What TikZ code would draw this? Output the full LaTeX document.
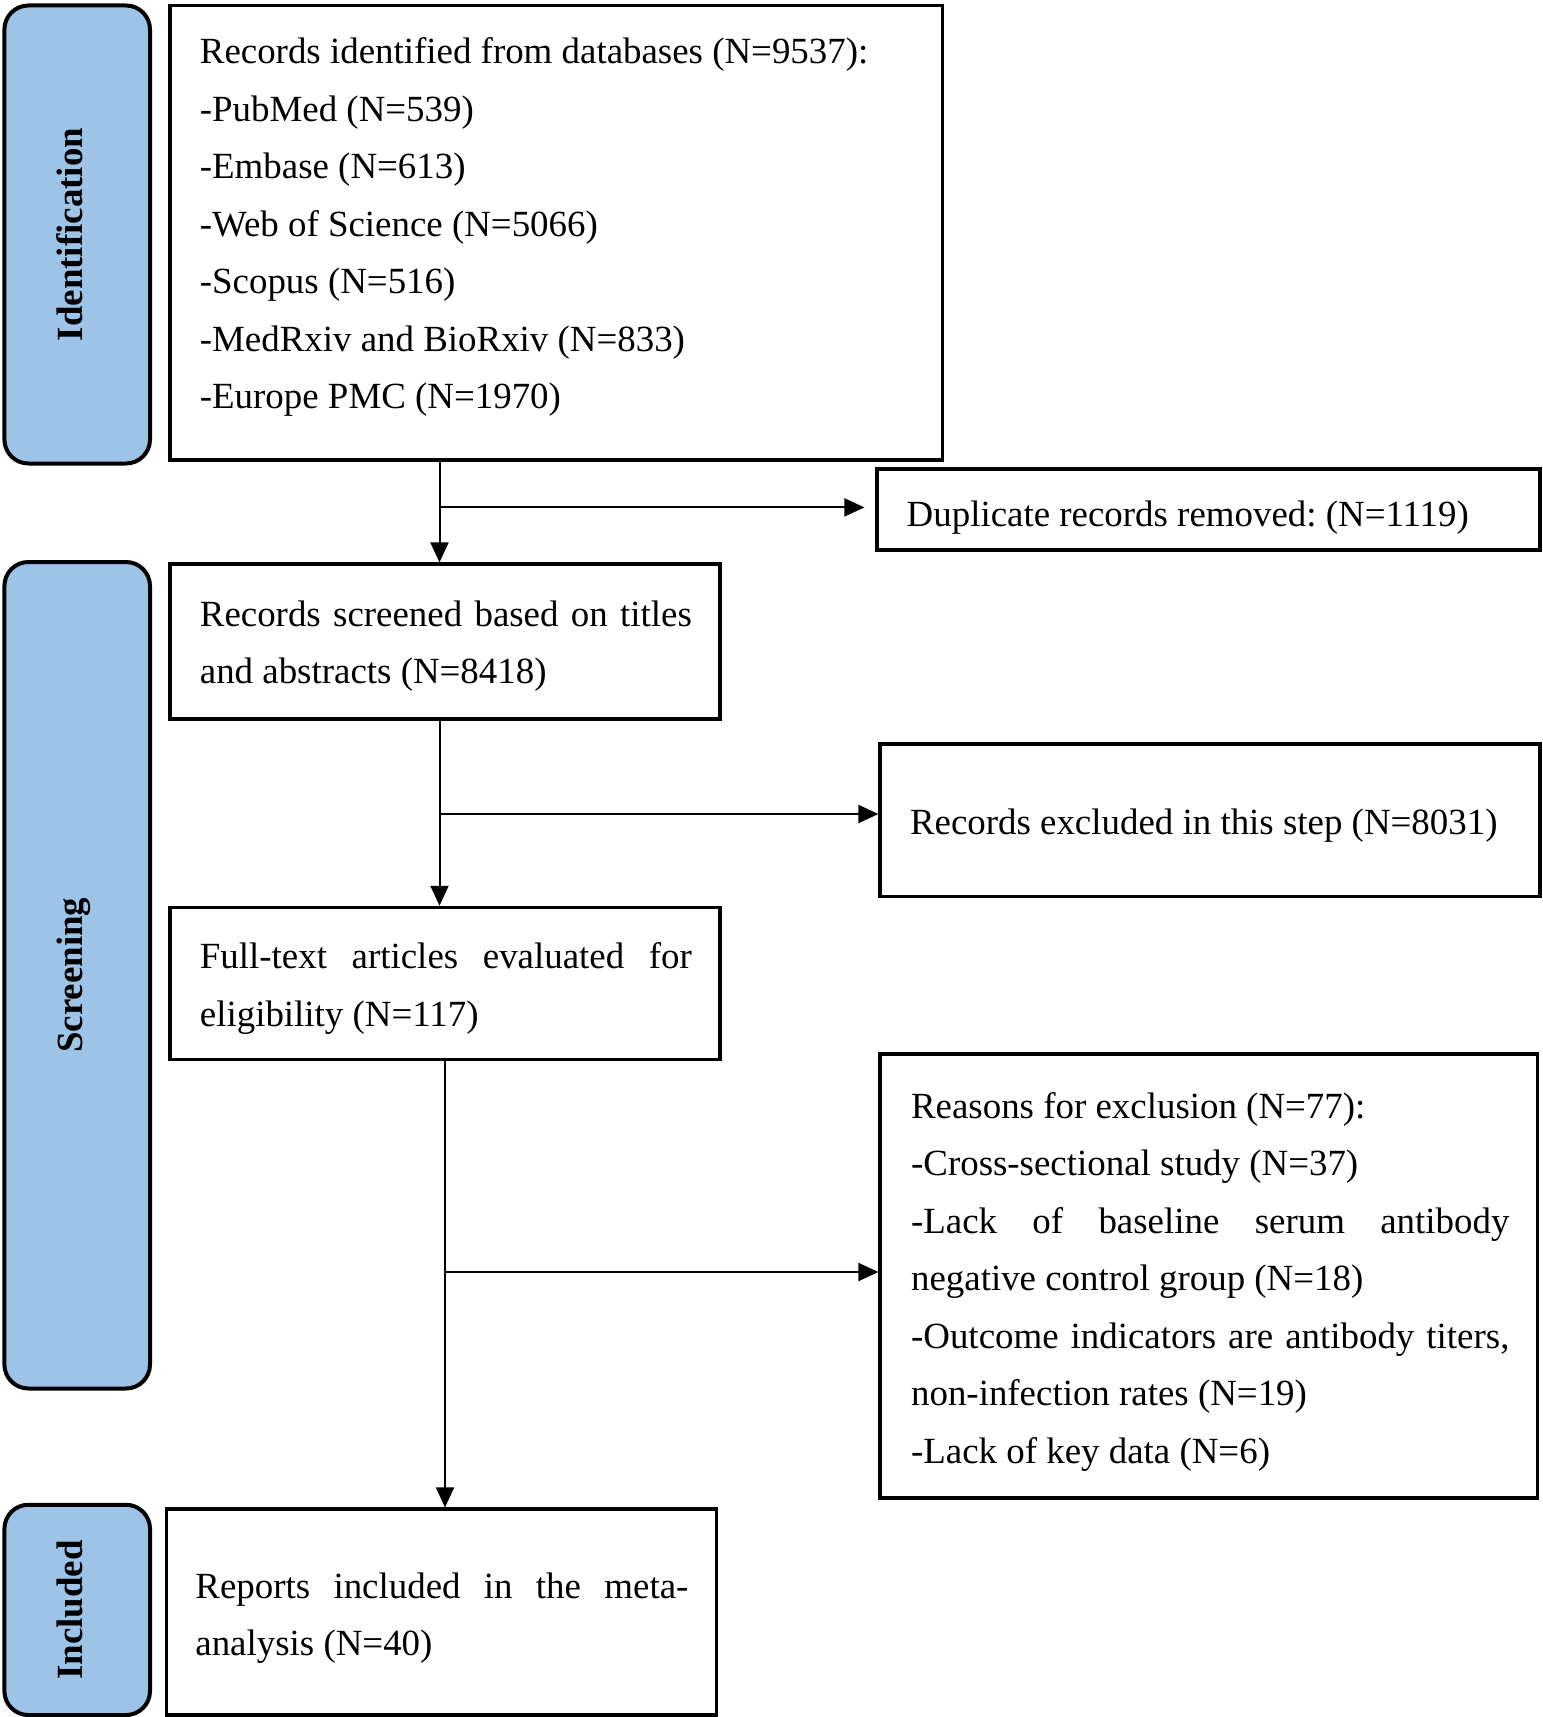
\documentclass[tikz,border=0pt]{standalone}
\usepackage{fontspec}
\setmainfont{Liberation Serif}[Ligatures={TeX,NoCommon}]
\usetikzlibrary{arrows.meta}
\definecolor{barblue}{HTML}{9DC3E6}
\frenchspacing
\newcommand\jst[2]{{\spaceskip=0pt\relax\xspaceskip=0pt\relax\makebox[#1][s]{#2}}}
\begin{document}
\begin{tikzpicture}[x=0.5pt,y=-0.5pt,
  box/.style={draw=black, line width=1.6pt, inner sep=0pt, fill=white},
  bar/.style={draw=black, line width=2pt, fill=barblue, rounded corners=12pt, inner sep=0pt},
  txt/.style={inner sep=0pt, align=left, anchor=west, font=\fontsize{18.45pt}{28.75pt}\selectfont\frenchspacing,
    execute at begin node={\spaceskip=0pt\relax\xspaceskip=0pt\relax}},
  lbl/.style={rotate=90, anchor=base, inner sep=0pt, font=\fontsize{18.45pt}{22pt}\selectfont\bfseries},
  arr/.style={line width=1pt, -{Triangle[length=10pt,width=9pt]}},
  ln/.style={line width=1pt}]
\useasboundingbox (0,0) rectangle (1542,1717);
% side bars
\node[bar, minimum width=72.8pt, minimum height=229pt] (idb) at (77.2,234.5) {};
\node[bar, minimum width=72.8pt, minimum height=413.25pt] (scb) at (77.2,975.25) {};
\node[bar, minimum width=72.8pt, minimum height=105.15pt] (inb) at (77.2,1609.9) {};
\node[lbl] (idl) at (82,234.5) {Identification};
\node[lbl] (scl) at (82,975.25) {Screening};
\node[lbl] (inl) at (82,1609.9) {Included};
% boxes
\node[box, minimum width=386.25pt, minimum height=227.25pt] (b1) at (556.25,232.7) {};
\node[box, minimum width=331.5pt, minimum height=40.5pt] (dup) at (1208.5,509.5) {};
\node[box, minimum width=275pt, minimum height=77.5pt] (b2) at (445,641.5) {};
\node[box, minimum width=330pt, minimum height=76.25pt] (exc) at (1210,820.25) {};
\node[box, minimum width=275pt, minimum height=76.15pt] (b3) at (445,983.5) {};
\node[box, minimum width=328.75pt, minimum height=222pt] (rea) at (1208.75,1276) {};
\node[box, minimum width=275pt, minimum height=103pt] (b4) at (441.6,1612) {};
% texts
\node[txt, text width=360pt] (t1) at (199.5,227.3) {Records identified from databases (N=9537):\\
-PubMed (N=539)\\
-Embase (N=613)\\
-Web of Science (N=5066)\\
-Scopus (N=516)\\
-MedRxiv and BioRxiv (N=833)\\
-Europe PMC (N=1970)};
\node[txt] (tdup) at (906.3,517.4) {Duplicate records removed: (N=1119)};
\node[txt, text width=246pt] (t2) at (199.5,646.2) {\jst{246pt}{Records screened based on titles}\\
and abstracts (N=8418)};
\node[txt] (texc) at (909.6,825.4) {Records excluded in this step (N=8031)};
\node[txt, text width=246pt] (t3) at (199.5,988.7) {\jst{246pt}{Full-text articles evaluated for}\\
eligibility (N=117)};
\node[txt, text width=299.15pt] (trea) at (910.7,1281.8) {Reasons for exclusion (N=77):\\
-Cross-sectional study (N=37)\\
\jst{299.15pt}{-Lack of baseline serum antibody}\\
negative control group (N=18)\\
\jst{299.15pt}{-Outcome indicators are antibody titers,}\\
non-infection rates (N=19)\\
-Lack of key data (N=6)};
\node[txt, text width=246.5pt] (t4) at (195,1618.3) {\jst{246.5pt}{Reports included in the meta-}\\
analysis (N=40)};
% connectors
\coordinate (j1) at (439.5,507.4);
\coordinate (j2) at (439.5,814);
\coordinate (j3) at (445,1272);
\draw[arr] (j1 |- b1.south) -- (j1 |- b2.north);
\draw[arr, shorten >=5.5pt] (j1) -- (j1 -| dup.west);
\draw[arr] (j2 |- b2.south) -- (j2 |- b3.north);
\draw[arr] (j2) -- (j2 -| exc.west);
\draw[arr] (j3 |- b3.south) -- (j3 |- b4.north);
\draw[arr] (j3) -- (j3 -| rea.west);
\end{tikzpicture}
\end{document}
